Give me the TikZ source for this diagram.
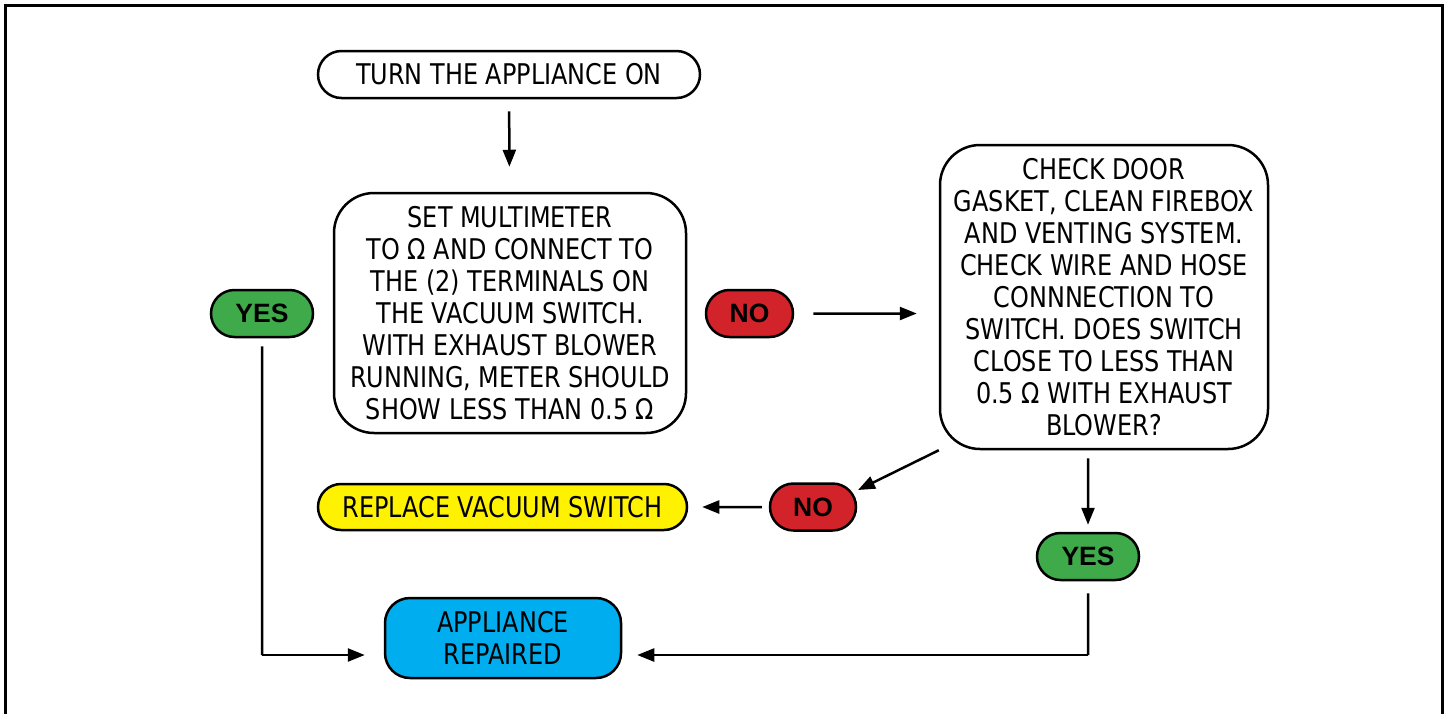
\documentclass[tikz,border=0pt]{standalone}
\usepackage{fontspec}
\setmainfont{DejaVu Sans}[FakeStretch=0.84]
\newfontfamily\yesnofont{Liberation Sans}[BoldFont={* Bold}]
\usetikzlibrary{arrows.meta,shapes.misc,calc}
\definecolor{yesgreen}{HTML}{3FAA4A}
\definecolor{nored}{HTML}{D2232A}
\definecolor{swyellow}{HTML}{FFF200}
\definecolor{repcyan}{HTML}{00AEEF}
\begin{document}
\begin{tikzpicture}[x=1pt,y=-1pt,
  boxtext/.style={font=\fontsize{28.5}{32}\selectfont, align=center, inner sep=0pt},
  pill/.style={rounded rectangle, draw=black, line width=2.5pt, inner sep=0pt, boxtext},
  bigbox/.style={rectangle, rounded corners=40pt, draw=black, line width=2.5pt, boxtext},
  answer/.style={rounded rectangle, draw=black, line width=2.5pt, inner sep=0pt,
     font=\yesnofont\bfseries\fontsize{26.5}{30}\selectfont, minimum height=47pt},
  conn/.style={line width=2.5pt, -{Triangle[length=17pt,width=13pt]}}
]
\useasboundingbox (0,0) rectangle (1447,713);
\fill[white] (0,0) rectangle (1447,713);
\draw[line width=3pt] (5,716) -- (5,5) -- (1442,5) -- (1442,716);

\node[pill, minimum width=382pt, minimum height=47pt] (turn) at (509,74.5) {TURN THE APPLIANCE ON};
\node[bigbox, minimum width=352pt, minimum height=240pt] (set) at (510,313)
  {SET MULTIMETER\\TO Ω AND CONNECT TO\\THE (2) TERMINALS ON\\THE VACUUM SWITCH.\\WITH EXHAUST BLOWER\\RUNNING, METER SHOULD\\SHOW LESS THAN 0.5 Ω};
\node[answer, fill=yesgreen, minimum width=102pt] (yesl) at (262,313.5) {YES};
\node[answer, fill=nored, minimum width=87pt] (not) at (749.5,313.5) {NO};
\node[bigbox, minimum width=328pt, minimum height=304pt] (check) at (1104,297)
  {CHECK DOOR\\GASKET, CLEAN FIREBOX\\AND VENTING SYSTEM.\\CHECK WIRE AND HOSE\\CONNNECTION TO\\SWITCH. DOES SWITCH\\CLOSE TO LESS THAN\\0.5 Ω WITH EXHAUST\\BLOWER?};
\node[answer, fill=nored, minimum width=86pt] (nob) at (813,507) {NO};
\node[pill, fill=swyellow, minimum width=369pt, minimum height=46pt] (repl) at (502.5,507) {REPLACE VACUUM SWITCH};
\node[answer, fill=yesgreen, minimum width=102pt] (yesr) at (1088,556.5) {YES};
\node[rectangle, rounded corners=25pt, draw=black, line width=2.5pt, fill=repcyan, boxtext,
  minimum width=236pt, minimum height=80pt] (appl) at (503,638) {APPLIANCE\\REPAIRED};

\coordinate (cl) at (262,655);
\coordinate (cr) at (1088,655);
\coordinate (diagend) at (858,490);

\draw[conn, shorten <=12pt, shorten >=25pt] (turn) -- (set);
\draw[conn, shorten <=19pt, shorten >=22pt] (not) -- (check.west |- not);
\draw[conn] (check.south west) -- (diagend);
\draw[conn, shorten <=7pt, shorten >=14pt] (nob) -- (repl);
\draw[conn, shorten <=8pt, shorten >=7pt] (check.south -| yesr) -- (yesr);
\draw[line width=2.5pt, shorten <=8pt] (yesl) -- (cl);
\draw[conn, shorten >=19pt] (cl) -- (appl.west |- cl);
\draw[line width=2.5pt, shorten <=12pt] (yesr) -- (cr);
\draw[conn, shorten >=15pt] (cr) -- (appl.east |- cr);
\end{tikzpicture}
\end{document}
